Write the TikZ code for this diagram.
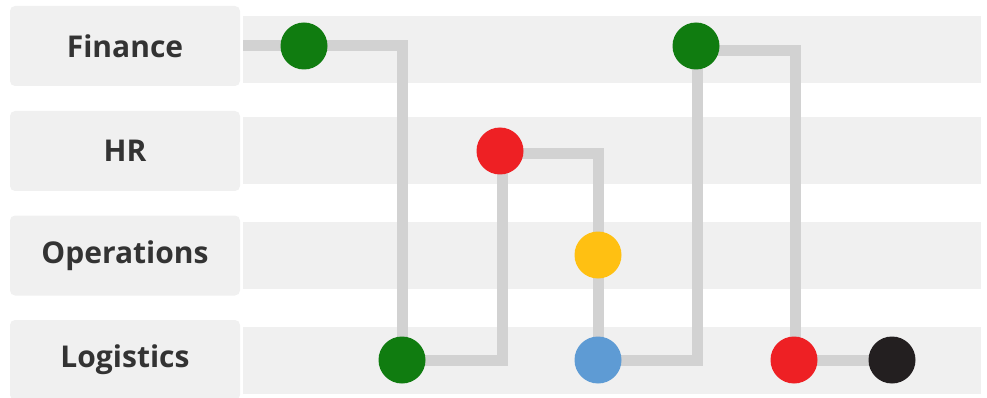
\documentclass[tikz,border=0pt]{standalone}
\usepackage{fontspec}
\setmainfont{Open Sans}
\definecolor{boxgray}{HTML}{F0F0F0}
\definecolor{linegray}{HTML}{D2D2D2}
\definecolor{textgray}{HTML}{333333}
\definecolor{mgreen}{HTML}{107C10}
\definecolor{mred}{HTML}{EE2024}
\definecolor{myellow}{HTML}{FFC012}
\definecolor{mblue}{HTML}{5E9BD4}
\definecolor{mblack}{HTML}{231F20}
\pgfdeclarelayer{lanes}
\pgfdeclarelayer{links}
\pgfsetlayers{lanes,links,main}
\begin{document}
\begin{tikzpicture}[x=1pt,y=-1pt,
  lbl/.style={fill=boxgray, rounded corners=5pt, minimum width=230pt, minimum height=80pt, inner sep=0pt, font=\fontsize{30}{34}\selectfont\bfseries, text=textgray},
  lane/.style={fill=boxgray, draw=none},
  conn/.style={draw=linegray, line width=11pt},
  dot/.style={circle, minimum size=47pt, inner sep=0pt, draw=none}]
\useasboundingbox (0,0) rectangle (987,398);
% label boxes
\node[lbl] (lfin) at (125,46) {Finance};
\node[lbl] (lhr) at (125,151) {HR};
\node[lbl] (lops) at (125,255.5) {Operations};
\node[lbl] (llog) at (125,360) {Logistics};
% lanes
\begin{pgfonlayer}{lanes}
\fill[lane] (243,16) rectangle (981,83);
\fill[lane] (243,117) rectangle (981,184);
\fill[lane] (243,222) rectangle (981,289);
\fill[lane] (243,327) rectangle (981,394);
\end{pgfonlayer}
% dots
\node[dot, fill=mgreen] (f1) at (304,46) {};
\node[dot, fill=mgreen] (l1) at (402,360) {};
\node[dot, fill=mred] (h1) at (500,151) {};
\node[dot, fill=myellow] (o1) at (598,255) {};
\node[dot, fill=mblue] (l2) at (598,360) {};
\node[dot, fill=mgreen] (f2) at (696,46) {};
\node[dot, fill=mred] (l3) at (794,360) {};
\node[dot, fill=mblack] (l4) at (892,360) {};
\coordinate (fstart) at (243,46);
% connectors
\begin{pgfonlayer}{links}
\draw[conn] (fstart) -- (f1.center);
\draw[conn] (f1.center) -| (l1.center);
\draw[conn] (l1.center) -| ([xshift=2pt]h1.center);
\draw[conn] ([yshift=-3pt]h1.center) -| (o1.center);
\draw[conn] (o1.center) -- (l2.center);
\draw[conn] (l2.center) -| ([xshift=1pt]f2.center);
\draw[conn] ([yshift=-5pt]f2.center) -| ([xshift=1pt]l3.center);
\draw[conn] (l3.center) -- (l4.center);
\end{pgfonlayer}
\end{tikzpicture}
\end{document}
